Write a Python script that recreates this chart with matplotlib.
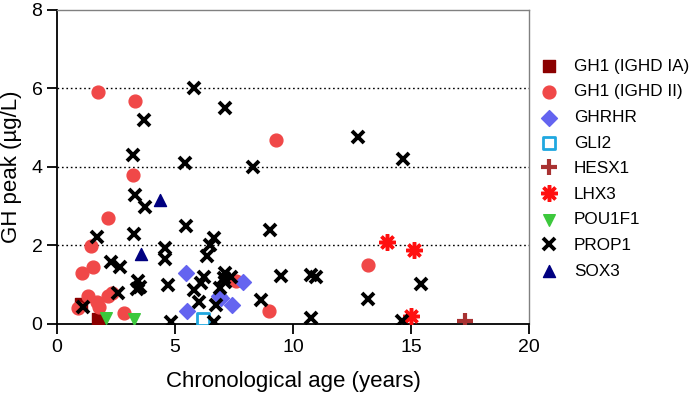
import matplotlib
matplotlib.use("Agg")
import matplotlib.pyplot as plt
import matplotlib.ticker as ticker

plt.rcParams['font.family'] = ['Liberation Sans', 'DejaVu Sans']

# 遺伝子ごとのデータ (年齢, GHピーク)
gh1_ia_age = [1.0, 1.73]
gh1_ia_gh = [0.51, 0.12]

gh1_ii_age = [1.75, 3.31, 9.28, 3.21, 2.15, 1.44, 1.51, 1.08, 1.33, 0.9,
              1.68, 1.8, 2.14, 2.32, 2.85, 7.59, 9.0, 13.18]
gh1_ii_gh = [5.9, 5.69, 4.69, 3.8, 2.7, 1.99, 1.46, 1.3, 0.71, 0.4,
             0.57, 0.42, 0.71, 0.8, 0.27, 1.1, 0.34, 1.49]

ghrhr_age = [5.48, 5.5, 6.95, 6.85, 7.42, 7.88]
ghrhr_gh = [1.31, 0.33, 0.65, 0.72, 0.48, 1.08]

gli2_age = [6.19]
gli2_gh = [0.12]

hesx1_age = [17.28]
hesx1_gh = [0.08]

lhx3_age = [13.97, 15.13, 14.99]
lhx3_gh = [2.08, 1.89, 0.21]

pou1f1_age = [2.08, 3.27]
pou1f1_gh = [0.14, 0.12]

prop1_age = [5.82, 7.13, 3.67, 3.21, 5.41, 8.31, 3.31, 3.74, 5.46, 9.02,
             1.71, 3.27, 6.64, 6.5, 4.59, 4.59, 6.36, 2.28, 2.68, 3.45,
             3.5, 3.41, 4.69, 6.24, 6.1, 5.82, 6.03, 7.13, 7.06, 7.35,
             6.92, 7.13, 6.74, 9.47, 8.65, 1.12, 2.6, 4.83, 6.64,
             12.77, 14.66, 10.74, 10.98, 15.44, 13.19, 10.74, 14.63]
prop1_gh = [6.0, 5.49, 5.2, 4.31, 4.09, 4.01, 3.29, 2.99, 2.5, 2.4,
            2.21, 2.28, 2.18, 2.01, 1.93, 1.65, 1.73, 1.59, 1.46, 1.1,
            0.95, 0.88, 0.99, 1.19, 1.04, 0.87, 0.57, 1.31, 1.16, 1.19,
            0.91, 1.08, 0.48, 1.21, 0.61, 0.44, 0.8, 0.06, 0.04,
            4.77, 4.2, 1.25, 1.19, 1.01, 0.63, 0.14, 0.08]

sox3_age = [4.37, 3.57]
sox3_gh = [3.16, 1.78]

# グラフ全体の設定
fig = plt.figure(figsize=(6.89, 3.96), dpi=100)
ax = fig.add_axes([0.0827, 0.182, 0.6853, 0.793])

ax.scatter(gh1_ia_age, gh1_ia_gh, marker='s', s=80, color='#8b0000', label='GH1 (IGHD IA)', zorder=3)
ax.scatter(gh1_ii_age, gh1_ii_gh, marker='o', s=85, color='#f04848', label='GH1 (IGHD II)', zorder=3)
ax.scatter(ghrhr_age, ghrhr_gh, marker='D', s=65, color='#6464f0', label='GHRHR', zorder=3)
ax.scatter(gli2_age, gli2_gh, marker='s', s=65, facecolor='white', edgecolor='#20a8e0',
           linewidth=2, label='GLI2', zorder=3)
ax.plot(hesx1_age, hesx1_gh, linestyle='none', marker='+', markersize=11,
        markeredgewidth=3, color='#a83232', label='HESX1', zorder=3)
ax.plot(lhx3_age, lhx3_gh, linestyle='none', marker=(8, 2, 0), markersize=12,
        markeredgewidth=2.5, color='#ff1010', label='LHX3', zorder=3)
ax.scatter(pou1f1_age, pou1f1_gh, marker='v', s=70, color='#3cc83c', label='POU1F1', zorder=3)
ax.plot(prop1_age, prop1_gh, linestyle='none', marker='x', markersize=8,
        markeredgewidth=2.8, color='black', label='PROP1', zorder=4)
ax.scatter(sox3_age, sox3_gh, marker='^', s=75, color='#000080', label='SOX3', zorder=3)

# 軸
ax.set_xlim(0, 20)
ax.set_ylim(0, 8)
ax.xaxis.set_major_locator(ticker.MultipleLocator(5))
ax.yaxis.set_major_locator(ticker.MultipleLocator(2))
ax.tick_params(axis='both', which='major', labelsize=14, length=7, width=1.3, direction='out')
ax.set_xlabel('Chronological age (years)', fontsize=16, labelpad=11)
ax.set_ylabel('GH peak (µg/L)', fontsize=16, labelpad=7)

for sp in ['left', 'bottom']:
    ax.spines[sp].set_linewidth(1.3)
    ax.spines[sp].set_color('black')
for sp in ['top', 'right']:
    ax.spines[sp].set_linewidth(1.0)
    ax.spines[sp].set_color('#808080')

# 補助線
for yv in [2, 4, 6]:
    ax.axhline(yv, color='black', linestyle=(0, (1.2, 2)), linewidth=1.0, zorder=1)

# 凡例
ax.legend(loc='upper left', bbox_to_anchor=(1.012, 0.866), frameon=False, fontsize=12.3,
          handlelength=0.9, handletextpad=1.0, labelspacing=0.62, borderaxespad=0)

fig.savefig('out.png', dpi=100)
plt.close('all')
